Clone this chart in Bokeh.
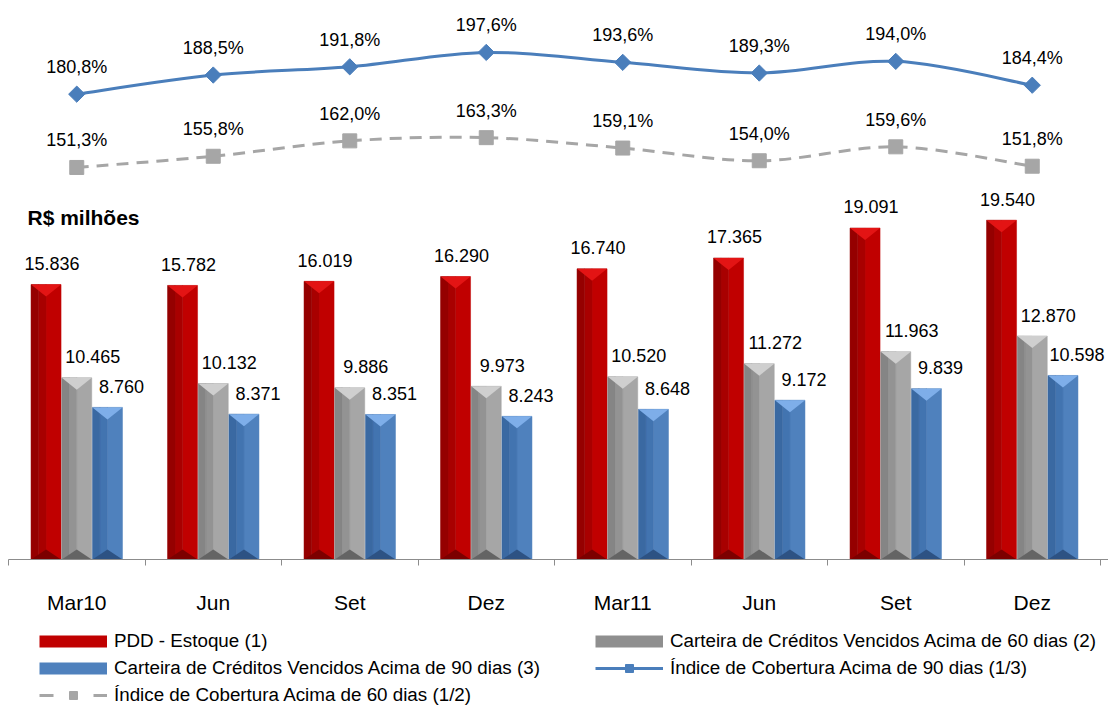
import numpy as np
from bokeh.plotting import figure
from bokeh.layouts import column
from bokeh.models import FixedTicker, Legend, LegendItem, Label, Range1d
from bokeh.core.properties import value
from bokeh.embed import file_html
from bokeh.resources import INLINE

# ---- data -------------------------------------------------------------
periods = ["Mar10", "Jun", "Set", "Dez", "Mar11", "Jun", "Set", "Dez"]
pdd_estoque = [15836, 15782, 16019, 16290, 16740, 17365, 19091, 19540]
vencidos_60 = [10465, 10132, 9886, 9973, 10520, 11272, 11963, 12870]
vencidos_90 = [8760, 8371, 8351, 8243, 8648, 9172, 9839, 10598]
cobertura_90 = [180.8, 188.5, 191.8, 197.6, 193.6, 189.3, 194.0, 184.4]
cobertura_60 = [151.3, 155.8, 162.0, 163.3, 159.1, 154.0, 159.6, 151.8]

# ---- layout constants -------------------------------------------------
W = 1108
CHART_H, LEGEND_H = 620, 86
FRAME_H = 559
PX_PER_GROUP = 136.5
BAR_MAX = 32190          # bar axis top (R$ milhões)
PCT_MIN, PCT_MAX = -6.5, 218.5
BAR_W = 0.22
FONT = "Liberation Sans"

n = len(periods)
centers = np.arange(n) + 0.5
units_per_px = BAR_MAX / FRAME_H

p = figure(width=W, height=CHART_H, output_backend="svg", toolbar_location=None,
           x_range=Range1d(0, n + 8 / PX_PER_GROUP), y_range=Range1d(0, BAR_MAX),
           y_axis_location=None, min_border_left=8, min_border_right=0,
           min_border_top=0, min_border_bottom=CHART_H - FRAME_H)
p.extra_y_ranges = {"pct": Range1d(PCT_MIN, PCT_MAX)}
p.outline_line_color = None
p.xgrid.visible = False
p.ygrid.visible = False

# ---- x axis: labels at group centres, ticks between groups -----------
ax = p.xaxis[0]
ax.ticker = FixedTicker(ticks=list(centers), minor_ticks=list(range(n + 1)))
ax.major_label_overrides = {float(c): lab for c, lab in zip(centers, periods)}
ax.major_tick_line_color = None
ax.major_tick_out = 0
ax.major_tick_in = 0
ax.minor_tick_line_color = "#8c8c8c"
ax.minor_tick_out = 6
ax.minor_tick_in = 0
ax.axis_line_color = "#8c8c8c"
ax.major_label_text_font = FONT
ax.major_label_text_font_size = "21px"
ax.major_label_text_color = "black"
ax.major_label_standoff = 25

# ---- bevelled bars ----------------------------------------------------
series = [
    (pdd_estoque, -0.225, dict(edge="#950000", left="#a80000", right="#c00000",
                                top="#e31414", bottom="#7c0000"), 6),
    (vencidos_60, 0.0, dict(edge="#858585", left="#939393", right="#a6a6a6",
                             top="#cfcfcf", bottom="#646464"), 16),
    (vencidos_90, 0.225, dict(edge="#3a69a2", left="#4274b0", right="#4f81bd",
                               top="#7eaee9", bottom="#2d5283"), 14),
]
top_depth = 12 * units_per_px
bottom_depth = 10 * units_per_px
half = BAR_W / 2

for vals, off, sh, lab_dx in series:
    v = np.array(vals, dtype=float)
    xc = centers + off
    p.vbar(x=xc + BAR_W / 4, width=BAR_W / 2, top=v, bottom=0,
           fill_color=sh["right"], line_color=sh["right"], line_width=0.5)
    p.vbar(x=xc - BAR_W / 8, width=BAR_W / 4, top=v, bottom=0,
           fill_color=sh["left"], line_color=sh["left"], line_width=0.5)
    p.vbar(x=xc - 3 * BAR_W / 8, width=BAR_W / 4, top=v, bottom=0,
           fill_color=sh["edge"], line_color=sh["edge"], line_width=0.5)
    p.patches(xs=[[x - half, x + half, x] for x in xc],
              ys=[[t, t, t - top_depth] for t in v],
              fill_color=sh["top"], line_color=None)
    p.patches(xs=[[x - half, x + half, x] for x in xc],
              ys=[[0, 0, bottom_depth] for _ in v],
              fill_color=sh["bottom"], line_color=None)
    p.text(x=xc, y=v, text=[f"{int(a):,}".replace(",", ".") for a in vals],
           x_offset=lab_dx, y_offset=-21, text_align="center",
           text_baseline="middle", text_font=value(FONT),
           text_font_size="18px", text_color="black")


# ---- smoothed coverage lines -----------------------------------------
def smooth(xs, ys):
    pts = np.column_stack([xs, ys]).astype(float)
    ext = np.vstack([pts[0], pts, pts[-1]])
    seg = dict(x0=[], y0=[], x1=[], y1=[], cx0=[], cy0=[], cx1=[], cy1=[])
    for i in range(len(pts) - 1):
        pp, a, b, nn = ext[i], ext[i + 1], ext[i + 2], ext[i + 3]
        c0 = a + (b - pp) / 6
        c1 = b - (nn - a) / 6
        for k, val in zip(seg, [a[0], a[1], b[0], b[1], c0[0], c0[1], c1[0], c1[1]]):
            seg[k].append(val)
    return seg


BLUE = "#4a7ebb"
GREY = "#a6a6a6"

p.bezier(**smooth(centers, cobertura_60), y_range_name="pct",
         line_color=GREY, line_width=3, line_dash="12 8")
p.scatter(x=centers, y=cobertura_60, y_range_name="pct", marker="square",
          size=14, fill_color=GREY, line_color=GREY)

p.bezier(**smooth(centers, cobertura_90), y_range_name="pct",
         line_color=BLUE, line_width=3)
p.scatter(x=centers, y=cobertura_90, y_range_name="pct", marker="square",
          angle=np.pi / 4, size=11.5, fill_color=BLUE, line_color=BLUE)

for vals in (cobertura_90, cobertura_60):
    p.text(x=centers, y=vals, y_range_name="pct",
           text=[f"{a:.1f}%".replace(".", ",") for a in vals],
           y_offset=-27, text_align="center", text_baseline="middle",
           text_font=value(FONT), text_font_size="18px", text_color="black")

p.add_layout(Label(x=19, y=FRAME_H - 217, x_units="screen", y_units="screen",
                   text="R$ milhões", text_font=FONT, text_font_size="21px",
                   text_font_style="bold", text_baseline="middle",
                   text_color="black"))

# ---- legend strip -----------------------------------------------------
lg = figure(width=W, height=LEGEND_H, output_backend="svg", toolbar_location=None,
            x_range=Range1d(0, 1), y_range=Range1d(0, 1),
            x_axis_location=None, y_axis_location=None,
            min_border_left=0, min_border_right=0, min_border_top=0,
            min_border_bottom=0)
lg.outline_line_color = None
lg.xgrid.visible = False
lg.ygrid.visible = False

# key renderers sit outside the visible range; only their legend swatches show
OFF_X, OFF_Y = [-2.0, -1.5], [-2.0, -2.0]


def key_line(color, width, dash="solid"):
    return lg.line(x=OFF_X, y=OFF_Y, line_color=color, line_width=width,
                   line_dash=dash)


leg_pdd = key_line("#c00000", 12)
leg_60 = key_line("#8f8f8f", 12)
leg_90 = key_line("#4f81bd", 12)
leg_c90 = [key_line(BLUE, 3),
           lg.scatter(x=OFF_X[:1], y=OFF_Y[:1], marker="square", angle=np.pi / 4,
                      fill_color=BLUE, line_color=BLUE)]
leg_c60 = [key_line(GREY, 3, "14 40"),
           lg.scatter(x=OFF_X[:1], y=OFF_Y[:1], marker="square",
                      fill_color=GREY, line_color=GREY)]


def make_legend(items, loc):
    leg = Legend(items=items, location=loc, orientation="vertical",
                 glyph_width=68, glyph_height=20, label_height=20,
                 label_standoff=7, spacing=5, padding=0, margin=0,
                 border_line_color=None, background_fill_alpha=0,
                 label_text_font=FONT, label_text_font_size="18.8px",
                 label_text_color="black")
    lg.add_layout(leg)


make_legend([
    LegendItem(label="PDD - Estoque (1)", renderers=[leg_pdd]),
    LegendItem(label="Carteira de Créditos Vencidos Acima de 90 dias (3)", renderers=[leg_90]),
    LegendItem(label="Índice de Cobertura Acima de 60 dias (1/2)", renderers=leg_c60),
], (31, 0))
make_legend([
    LegendItem(label="Carteira de Créditos Vencidos Acima de 60 dias (2)", renderers=[leg_60]),
    LegendItem(label="Índice de Cobertura Acima de 90 dias (1/3)", renderers=leg_c90),
], (587, 27))

open("out.html", "w").write(file_html(column(p, lg, spacing=0), INLINE))
